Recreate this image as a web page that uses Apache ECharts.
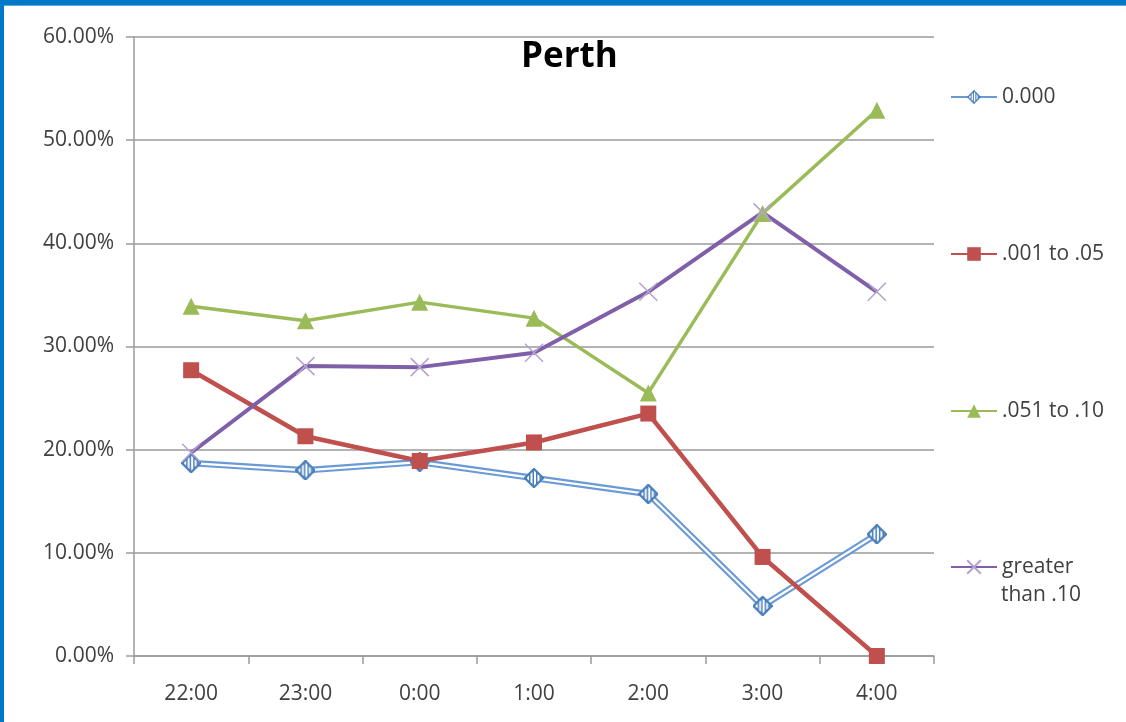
<!DOCTYPE html>
<html>
<head>
<meta charset="utf-8">
<script src="https://cdn.jsdelivr.net/npm/echarts@6/dist/echarts.min.js"></script>
<style>
  html, body { margin: 0; padding: 0; background: #ffffff; }
  #chart { width: 1126px; height: 722px; }
</style>
</head>
<body>
<div id="chart"></div>
<script>
// Hour of night (category axis)
const hours = ['22:00', '23:00', '0:00', '1:00', '2:00', '3:00', '4:00'];

// Share of drivers per BAC band, in percent
const share000 = [18.7, 18.0, 18.8, 17.25, 15.7, 4.85, 11.8];
const share001to05 = [27.7, 21.3, 18.9, 20.7, 23.5, 9.6, 0.0];
const share051to10 = [33.9, 32.5, 34.3, 32.75, 25.5, 42.9, 52.9];
const shareOver10 = [19.7, 28.1, 28.0, 29.4, 35.3, 43.0, 35.3];

// Series names as shown in the legend
const bandNames = ['0.000', '.001 to .05', '.051 to .10', 'greater than .10'];

const FONT = '"Open Sans", sans-serif';
const FS = 21;
const TEXT = '#404040';
const GRID = '#9a9a9a';

const blue = '#4a7ebb';
const blueLine = '#6a9ad6';
const red = '#c0504d';
const green = '#9bbb59';
const purple = '#7f5fa8';
const lightPurple = '#b3a2cf';

// Striped diamond marker drawn once on a canvas and used as an image symbol
function stripedDiamond(size) {
  const s = size * 2;
  const c = document.createElement('canvas');
  c.width = s; c.height = s;
  const g = c.getContext('2d');
  const m = 2;
  g.beginPath();
  g.moveTo(s / 2, m);
  g.lineTo(s - m, s / 2);
  g.lineTo(s / 2, s - m);
  g.lineTo(m, s / 2);
  g.closePath();
  g.fillStyle = '#ffffff';
  g.fill();
  g.save();
  g.clip();
  g.fillStyle = blue;
  for (let x = 3; x < s; x += 7) g.fillRect(x, 0, 3, s);
  g.restore();
  g.lineWidth = 4;
  g.strokeStyle = blue;
  g.stroke();
  return 'image://' + c.toDataURL();
}
const diamondSymbol = stripedDiamond(20);

function legendAt(name, centerY, fmt) {
  return {
    data: [name],
    orient: 'vertical',
    left: 950,
    top: centerY - 14,
    padding: 0,
    itemWidth: 46,
    itemHeight: 17,
    itemGap: 5,
    selectedMode: false,
    formatter: fmt || '{name}',
    textStyle: { fontFamily: FONT, fontSize: FS, color: TEXT, lineHeight: 28 }
  };
}

const chart = echarts.init(document.getElementById('chart'), null, { renderer: 'canvas' });

chart.setOption({
  backgroundColor: '#ffffff',
  animation: false,
  title: {
    text: 'Perth',
    left: 516,
    top: 35,
    textStyle: { fontFamily: FONT, fontSize: 35, fontWeight: 'bold', color: '#000000' }
  },
  graphic: [
    { type: 'rect', left: 0, top: 0, shape: { width: 1126, height: 5 }, style: { fill: '#0078c8' }, z: 100 },
    { type: 'rect', left: 0, top: 5, shape: { width: 1126, height: 1 }, style: { fill: '#5aa6dc' }, z: 100 },
    { type: 'rect', left: 0, top: 0, shape: { width: 4, height: 722 }, style: { fill: '#0078c8' }, z: 100 },
    {
      type: 'text', left: 1001, top: 585,
      style: { text: 'than .10', fontFamily: FONT, fontSize: FS, fill: TEXT }
    }
  ],
  legend: [
    legendAt(bandNames[0], 97),
    legendAt(bandNames[1], 254),
    legendAt(bandNames[2], 411),
    legendAt(bandNames[3], 567, () => 'greater')
  ],
  grid: { left: 134, right: 192, top: 37, bottom: 66, containLabel: false },
  xAxis: {
    type: 'category',
    data: hours,
    boundaryGap: true,
    axisLine: { lineStyle: { color: GRID, width: 1.5 } },
    axisTick: { show: true, length: 8, alignWithLabel: false, lineStyle: { color: GRID, width: 1.5 } },
    axisLabel: { margin: 28, fontFamily: FONT, fontSize: FS, color: TEXT },
    splitLine: { show: false }
  },
  yAxis: {
    type: 'value',
    min: 0,
    max: 60,
    interval: 10,
    axisLine: { show: true, lineStyle: { color: GRID, width: 1.5 } },
    axisTick: { show: true, length: 8, lineStyle: { color: GRID, width: 1.5 } },
    axisLabel: {
      margin: 20,
      fontFamily: FONT, fontSize: FS, color: TEXT,
      formatter: v => v.toFixed(2) + '%'
    },
    splitLine: { show: true, lineStyle: { color: GRID, width: 1.5 } }
  },
  series: [
    {
      // outer band of the double line, with markers for the legend icon
      name: bandNames[0],
      type: 'line',
      data: share000,
      symbol: diamondSymbol,
      symbolSize: 20,
      lineStyle: { color: blueLine, width: 6.5 },
      itemStyle: { color: blue },
      emphasis: { disabled: true }
    },
    {
      // white core of the double line
      name: '0.000 core',
      type: 'line',
      data: share000,
      symbol: 'none',
      silent: true,
      lineStyle: { color: '#ffffff', width: 2.2 },
      emphasis: { disabled: true }
    },
    {
      // striped diamonds on top of the double line
      name: '0.000 markers',
      type: 'line',
      data: share000,
      symbol: diamondSymbol,
      symbolSize: 20,
      silent: true,
      lineStyle: { width: 0, opacity: 0 },
      itemStyle: { color: blue },
      emphasis: { disabled: true }
    },
    {
      name: bandNames[1],
      type: 'line',
      data: share001to05,
      symbol: 'rect',
      symbolSize: 16,
      lineStyle: { color: red, width: 4.5 },
      itemStyle: { color: red },
      emphasis: { disabled: true }
    },
    {
      name: bandNames[2],
      type: 'line',
      data: share051to10,
      symbol: 'triangle',
      symbolSize: 17,
      lineStyle: { color: green, width: 3.5 },
      itemStyle: { color: green },
      emphasis: { disabled: true }
    },
    {
      name: bandNames[3],
      type: 'line',
      data: shareOver10,
      symbol: 'path://M0,0L10,10M10,0L0,10',
      symbolSize: 18,
      lineStyle: { color: purple, width: 4 },
      itemStyle: { color: 'rgba(0,0,0,0)', borderColor: lightPurple, borderWidth: 1.5 },
      emphasis: { disabled: true }
    }
  ]
});
</script>
</body>
</html>
